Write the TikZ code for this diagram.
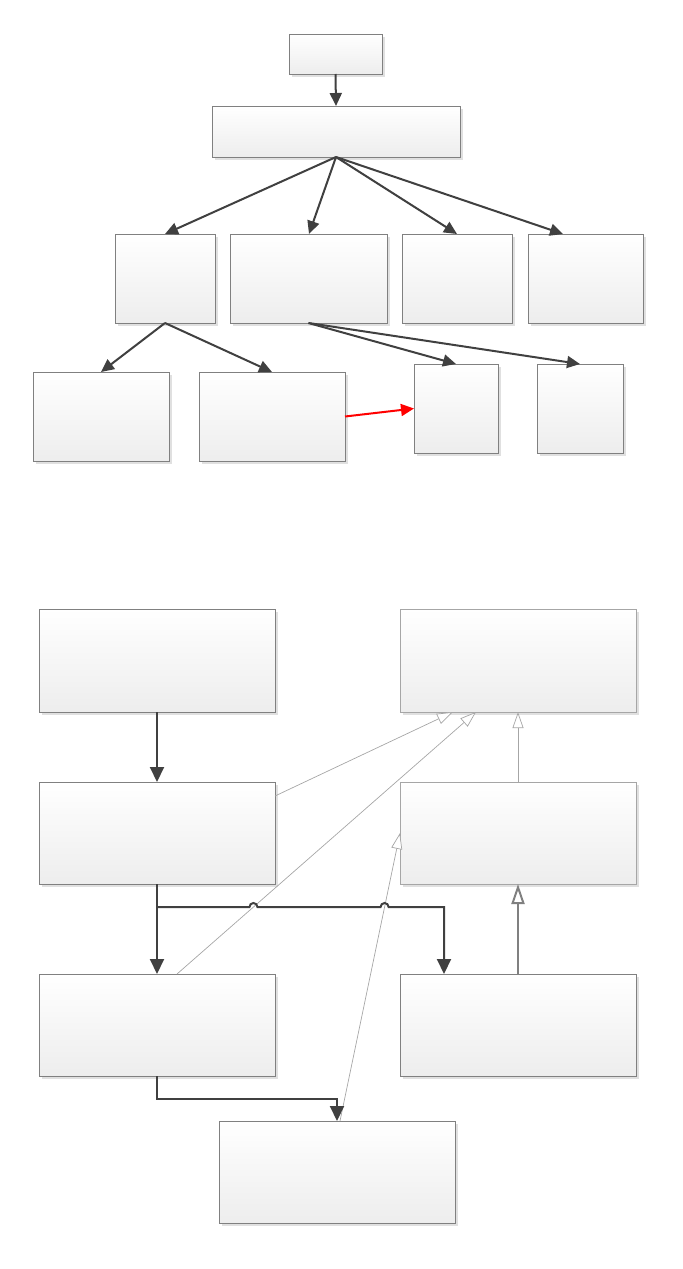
\documentclass[tikz,border=0pt]{standalone}
\usetikzlibrary{arrows.meta,calc,shadows,intersections}
\definecolor{dk}{HTML}{404040}
\definecolor{lg}{HTML}{A6A6A6}
\definecolor{mg}{HTML}{808080}
\tikzset{
  box/.style={draw=mg, line width=0.5pt, top color=white, bottom color=black!7,
    inner sep=0pt, outer sep=0pt,
    drop shadow={shadow xshift=1.5pt, shadow yshift=-1.5pt, fill=black, opacity=0.12}},
  lbox/.style={box, draw=lg},
  dkarrow/.style={draw=dk, line width=1pt, -{Triangle[length=6.5pt,width=6pt]}},
  bigdk/.style={draw=dk, line width=1pt, -{Triangle[length=7.5pt,width=7pt]}},
  redarrow/.style={draw=red, line width=1pt, -{Triangle[length=6.5pt,width=6pt]}},
  inh/.style={draw=lg, line width=0.35pt, -{Triangle[open, length=8pt, width=5.5pt, fill=white]}},
  inhthick/.style={draw=mg, line width=1pt, -{Triangle[open, length=10pt, width=6.5pt, fill=white]}},
}
\newcommand\mkbox[6][box]{\node[#1, minimum width={(#5-#3)*0.5pt}, minimum height={(#6-#4)*0.5pt}] (#2) at ({(#3+#5)/2},{(#4+#6)/2}) {};}
\begin{document}
\begin{tikzpicture}[x=0.5pt,y=-0.5pt]
\useasboundingbox (0,0) rectangle (682,1269);
% upper tree
\mkbox{A}{289}{34}{382}{74}
\mkbox{B}{212}{106}{460}{157}
\mkbox{C}{115}{234}{215}{323}
\mkbox{D}{230}{234}{387}{323}
\mkbox{E}{402}{234}{512}{323}
\mkbox{F}{528}{234}{643}{323}
\mkbox{G}{33}{372}{169}{461}
\mkbox{H}{199}{372}{345}{461}
\mkbox{I}{414}{364}{498}{453}
\mkbox{J}{537}{364}{623}{453}
\draw[dkarrow] (A.south) -- (B.north);
\draw[dkarrow] (B.south) -- (C.north);
\draw[dkarrow] (B.south) -- ($(D.north)+(0.5,0)$);
\draw[dkarrow] (B.south) -- (E.north);
\draw[dkarrow] (B.south) -- ($(F.north west)+(35,0)$);
\draw[dkarrow] (C.south) -- (G.north);
\draw[dkarrow] (C.south) -- (H.north);
\draw[dkarrow] (D.south) -- (I.north);
\draw[dkarrow] (D.south) -- (J.north);
\draw[redarrow] (H.east) -- (I.west);
% lower diagram
\mkbox{K}{39}{609}{275}{712}
\mkbox[lbox]{M}{400}{609}{636}{712}
\mkbox{L}{39}{782}{275}{884}
\mkbox[lbox]{N}{400}{782}{636}{884}
\mkbox{P}{39}{974}{275}{1076}
\mkbox{Q}{400}{974}{636}{1076}
\mkbox{R}{219}{1121}{455}{1223}
\draw[bigdk] (K.south) -- (L.north);
\draw[inh] (N.north) -- (M.south);
\draw[inhthick] (Q.north) -- (N.south);
\draw[inh] ($(L.north east)+(0,14)$) -- ($(M.south west)+(53,0)$);
\draw[inh, name path=pm] ($(P.north west)+(138,0)$) -- ($(M.south west)+(76,0)$);
\draw[inh, name path=rn] ($(R.north)+(3,0)$) -- (N.west);
\coordinate (fork) at ($(L.south)+(0,23)$);
\coordinate (qin) at ($(Q.north west)+(44,0)$);
\path[name path=hz] (fork) -- (qin |- fork);
\path[name intersections={of=hz and pm, by=x1}];
\path[name intersections={of=hz and rn, by=x2}];
\draw[bigdk] (L.south) -- (P.north);
\draw[bigdk] (fork) -- ($(x1)+(-4,0)$) arc[start angle=180, end angle=360, radius=4]
   -- ($(x2)+(-4,0)$) arc[start angle=180, end angle=360, radius=4]
   -- (qin |- fork) -- (qin);
\draw[bigdk] (P.south) -- ++(0,23) -| (R.north);
\end{tikzpicture}
\end{document}
